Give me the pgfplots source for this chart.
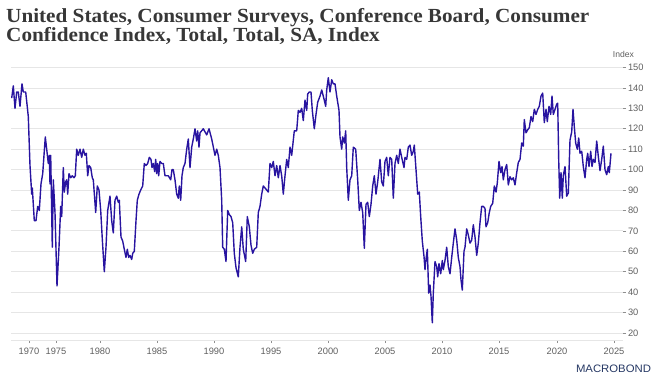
\documentclass[border=0pt]{standalone}
\usepackage{fontspec}
\setmainfont{Liberation Sans}
\newfontfamily\titlefont{Liberation Serif}
\usepackage{pgfplots}
\pgfplotsset{compat=1.18}
\definecolor{linecol}{RGB}{40,20,160}
\definecolor{gridcol}{RGB}{230,230,230}
\definecolor{tickcol}{RGB}{95,95,95}
\definecolor{titlecol}{RGB}{55,55,55}
\definecolor{mbblue}{RGB}{38,56,100}

\pgfplotstableread{
pos value
11.7 135
13.3 141
15.0 130
16.7 138
18.3 138
20.0 131
22.0 142
23.3 138
25.7 138
28.3 126
30.0 102
31.7 88
32.3 91
34.3 75
36.0 75
37.7 82
39.3 80
41.0 93
42.7 98
45.3 116
46.7 110
48.3 103
49.3 107
50.0 93
50.7 107
52.3 62
53.3 95
55.0 79
57.0 43
59.0 62
60.7 82
61.7 77
63.3 101
64.3 89
65.7 94
66.7 95
67.7 88
69.0 98
70.7 96
72.3 97
74.0 96
75.3 97
76.7 110
78.3 107
80.0 110
81.7 106
83.3 110
85.0 107
86.3 108
87.7 97
89.0 102
90.7 101
92.3 96
93.3 95
95.7 79
97.3 92
99.0 90
100.7 80
102.3 66
104.3 50
106.0 62
107.7 80
110.0 87
111.7 75
113.3 69
115.0 85
116.7 87
118.3 84
119.3 85
121.0 67
122.7 65
124.3 61
126.0 57
127.3 61
128.7 57
130.0 58
131.7 56
132.7 59
134.3 60
136.0 75
137.3 85
139.0 88
140.7 90
142.7 92
144.3 103
146.0 102
147.7 103
149.3 106
151.0 105
152.0 101
153.3 103
154.7 99
155.7 105
156.7 98
157.7 103
158.7 97
160.0 104
161.7 103
163.3 103
165.0 97
166.7 97
168.3 97
170.7 95
172.0 100
173.3 100
175.0 95
176.7 88
178.3 86
179.3 92
180.7 85
182.0 97
183.3 101
185.0 103
186.7 110
188.3 115
190.0 101
191.7 111
193.3 115
195.0 120
196.7 114
197.7 119
199.0 111
200.0 118
203.3 120
206.7 117
209.0 120
211.7 115
215.0 107
216.7 110
218.3 107
220.0 101
221.7 85
222.7 62
224.3 61
226.0 55
227.7 80
229.3 78
231.0 77
232.7 74
234.3 59
236.0 52
238.3 47.5
240.0 62
241.7 72
243.3 61
245.7 55
247.3 77
249.3 72
251.0 63
252.7 59
254.3 61
256.7 62
258.3 79
260.0 82
261.7 88
263.3 92
265.0 91
266.7 90
268.3 89
270.0 103
271.7 101
273.3 104
275.0 97
276.7 102
278.3 96
280.0 102
281.7 97
283.3 88
285.0 97
286.7 105
288.3 101
290.0 111
291.7 107
294.3 119
296.7 119
298.3 129
300.0 128
301.7 130
303.3 124
305.0 134
306.7 129
307.7 137
309.3 138
311.0 138
312.3 129
314.3 120
316.0 127
317.7 133
320.0 136
321.7 139
323.3 136
325.7 131
326.7 139
328.3 145
330.0 138
331.7 144
333.3 142
335.0 142
336.7 136
339.0 129
340.0 116
341.7 110
342.7 116
344.3 113
345.7 119
346.7 101
348.3 85
350.0 95
351.7 97
353.3 111
355.7 110
357.7 95
359.3 80
361.0 84
362.7 79
364.3 61.5
366.0 83
367.7 84
369.3 77
371.0 83
372.7 92
374.3 97
376.0 88
377.7 94
380.0 105
381.7 94
383.3 92
385.0 104
386.7 106
388.3 97
390.0 106
391.7 105
393.3 86
395.0 103
396.7 107
398.3 103
400.0 110
401.7 106
404.0 101
405.0 106
406.7 105
408.3 111
410.0 112
411.7 107
413.3 109
414.3 112
416.0 100
417.7 88
419.3 89
420.7 77
422.3 65
424.0 57.5
425.0 51
426.0 56
427.3 61
428.7 39.5
430.0 43.5
431.0 38
432.3 25
433.3 39.5
435.0 55
436.7 52.5
437.7 47.5
439.0 54
440.7 49
442.3 55.5
443.3 51
445.0 55.5
446.7 62
448.3 52.5
450.0 49
451.7 57
453.3 64
455.0 71
456.7 65.5
458.3 57
460.0 52.5
461.0 46
462.3 41
464.0 60
465.0 62
466.7 71
468.3 68
470.0 64
471.7 65.5
473.3 73
475.0 67
476.7 58
478.3 64
480.0 74
481.7 82
483.3 82
485.0 81
486.0 72
487.7 74
489.3 79
490.7 82
492.7 83.5
494.3 92
496.0 89
497.3 93.5
499.0 104
500.7 98.5
502.0 101.5
503.3 95
505.0 100
506.7 102.5
508.3 92.5
510.0 96.5
511.7 95
513.3 96
515.0 92.5
516.7 98.5
518.3 103.5
520.0 105
521.7 113
523.3 111.5
524.3 124.5
526.0 118
527.7 119.5
529.3 120.5
531.0 126
532.7 123.5
534.3 129.5
536.0 127
537.7 129.5
539.3 131
541.0 136
542.7 137.5
544.3 123
546.0 129.5
547.3 123.5
549.0 131
550.7 127
552.0 136
553.3 127
555.0 129.5
556.7 132
557.7 132.5
558.7 105
559.7 86
561.0 98.5
562.3 86
563.3 97
565.0 101.5
566.7 87
568.3 88.5
570.0 114.5
571.7 118.5
573.0 129.5
574.3 121
575.7 113
577.3 110
578.7 115.5
580.0 108
581.7 109
583.3 101.5
585.0 96
586.7 105
587.7 108
589.0 101.5
590.7 109
592.0 101.5
593.3 105
595.0 103.5
596.7 114
598.3 106.5
600.0 99.5
601.7 105
603.3 111.5
605.0 100
606.7 97.5
608.3 101.5
609.3 98.5
611.0 108
}\cci

\begin{document}
\begin{tikzpicture}[x=1pt,y=1pt]
\path[use as bounding box] (-11,-41) rectangle (641,340);
\begin{axis}[
  at={(0,0)}, anchor=south west,
  width=612pt, height=279pt, scale only axis,
  xmin=11, xmax=623, ymin=16.57, ymax=153.18,
  axis x line*=bottom, axis y line*=right,
  x axis line style={draw=gridcol, line width=0.8pt},
  y axis line style={draw=none},
  ytick={20,30,...,150},
  xtick={29,56,100,157,214,271,328,385,442,499,557,614},
  xticklabels={1970,1975,1980,1985,1990,1995,2000,2005,2010,2015,2020,2025},
  tick align=outside,
  major tick length=3pt,
  tick style={draw=tickcol!70, line width=0.6pt},
  ymajorgrids,
  grid style={draw=gridcol, line width=0.8pt},
  ticklabel style={font=\fontsize{9.3}{10}\selectfont, text=tickcol},
  /pgf/number format/assume math mode=true,
  yticklabel style={xshift=-1.5pt},
  xticklabel style={yshift=-1.5pt},
  clip=false,
]
\addplot[linecol, line width=1.4pt, line join=round] table[x=pos, y=value] {\cci};
\end{axis}
\node[anchor=base west, text=titlecol, inner sep=0pt] at (-5,317.3)
  {\scalebox{1.06}[1]{\titlefont\bfseries\fontsize{20}{20}\selectfont United States, Consumer Surveys, Conference Board, Consumer}};
\node[anchor=base west, text=titlecol, inner sep=0pt] at (-5,298.3)
  {\scalebox{1.06}[1]{\titlefont\bfseries\fontsize{20}{20}\selectfont Confidence Index, Total, Total, SA, Index}};
\node[text=tickcol, inner sep=0pt] at (612.5,286) {\fontsize{8.6}{9}\selectfont Index};
\node[text=mbblue, inner sep=0pt] at (602.5,-29) {\scalebox{1.05}[1]{\fontsize{10.8}{11}\selectfont MACROBOND}};
\end{tikzpicture}
\end{document}
